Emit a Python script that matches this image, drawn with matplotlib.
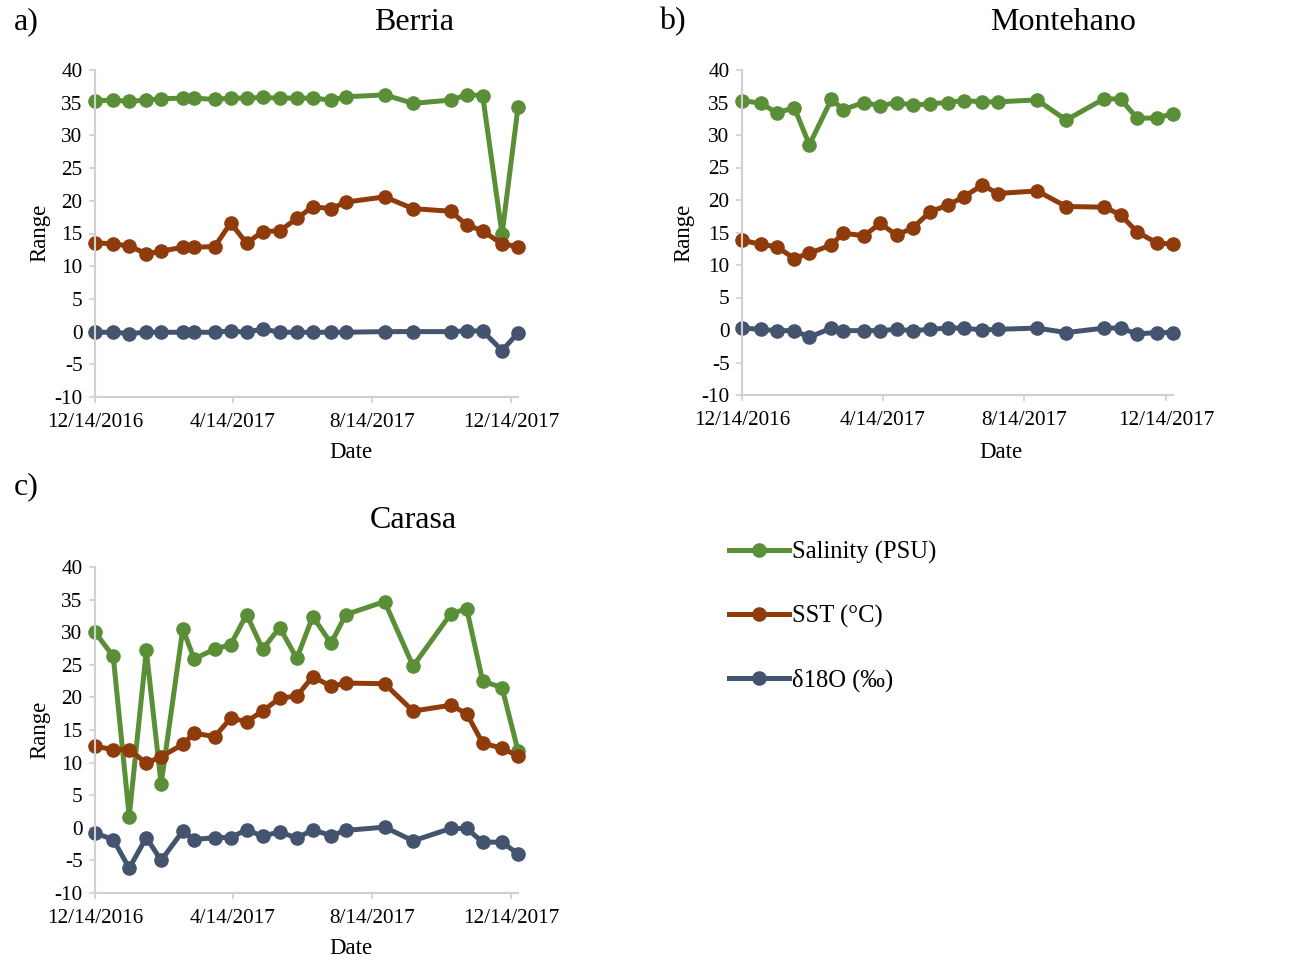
import matplotlib
matplotlib.use("Agg")
import matplotlib.pyplot as plt
import numpy as np
import datetime as dt

plt.rcParams['font.family'] = ['Liberation Serif', 'DejaVu Serif']
plt.rcParams['axes.unicode_minus'] = False

dates = ["2016-12-14", "2016-12-30", "2017-01-13", "2017-01-28", "2017-02-10",
         "2017-03-01", "2017-03-11", "2017-03-29", "2017-04-12", "2017-04-26",
         "2017-05-10", "2017-05-25", "2017-06-09", "2017-06-23", "2017-07-09",
         "2017-07-22", "2017-08-25", "2017-09-19", "2017-10-22", "2017-11-05",
         "2017-11-19", "2017-12-06", "2017-12-20"]

berria_sal = [35.3, 35.4, 35.2, 35.4, 35.6, 35.7, 35.7, 35.5, 35.7, 35.7, 35.8, 35.7,
              35.7, 35.7, 35.4, 35.9, 36.2, 34.9, 35.4, 36.2, 36.1, 14.9, 34.3]
berria_sst = [13.6, 13.4, 13.1, 11.9, 12.3, 12.9, 12.9, 13.0, 16.6, 13.5, 15.3, 15.4,
              17.3, 19.1, 18.8, 19.8, 20.6, 18.8, 18.4, 16.3, 15.4, 13.4, 13.0]
berria_d18o = [-0.1, -0.1, -0.3, -0.1, -0.1, -0.1, -0.1, -0.1, 0.1, -0.1, 0.4, -0.1,
               -0.1, -0.1, -0.1, -0.1, 0.0, 0.0, 0.0, 0.1, 0.1, -2.9, -0.2]

monte_sal = [35.3, 34.9, 33.4, 34.2, 28.5, 35.5, 33.9, 35.0, 34.5, 35.0, 34.6, 34.8,
             35.0, 35.3, 35.1, 35.1, 35.4, 32.3, 35.6, 35.5, 32.6, 32.6, 33.3]
monte_sst = [13.8, 13.2, 12.8, 11.0, 11.8, 13.1, 14.9, 14.5, 16.4, 14.6, 15.7, 18.2,
             19.2, 20.5, 22.3, 21.0, 21.4, 19.0, 18.9, 17.7, 15.1, 13.4, 13.2]
monte_d18o = [0.3, 0.1, -0.1, -0.1, -1.1, 0.3, -0.1, -0.1, -0.1, 0.1, -0.1, 0.1,
              0.3, 0.3, 0.0, 0.1, 0.3, -0.4, 0.3, 0.3, -0.6, -0.4, -0.4]

carasa_sal = [30.0, 26.3, 1.7, 27.2, 6.7, 30.5, 25.9, 27.4, 28.1, 32.7, 27.4, 30.7,
              26.0, 32.4, 28.3, 32.7, 34.7, 24.8, 32.8, 33.6, 22.5, 21.5, 11.8]
carasa_sst = [12.5, 12.0, 12.0, 9.9, 10.9, 12.8, 14.5, 14.0, 16.8, 16.3, 17.9, 19.9,
              20.2, 23.2, 21.7, 22.2, 22.1, 17.9, 18.8, 17.5, 13.0, 12.2, 11.0]
carasa_d18o = [-0.8, -1.8, -6.2, -1.5, -5.0, -0.5, -1.8, -1.5, -1.5, -0.3, -1.3, -0.6,
               -1.6, -0.3, -1.2, -0.4, 0.1, -2.0, -0.1, -0.1, -2.2, -2.2, -4.0]

tick_dates = ["2016-12-14", "2017-04-14", "2017-08-14", "2017-12-14"]
tick_labels = ["12/14/2016", "4/14/2017", "8/14/2017", "12/14/2017"]
yticks = list(range(-10, 41, 5))

series_labels = ["Salinity (PSU)", "SST (\u00b0C)", "\u03b418O (\u2030)"]
colors = ["#5A8F38", "#903B0C", "#44546E"]

x = [dt.datetime.strptime(d, "%Y-%m-%d") for d in dates]
xt = [dt.datetime.strptime(d, "%Y-%m-%d") for d in tick_dates]

W, H = 1307, 964
fig = plt.figure(figsize=(W / 100, H / 100), dpi=100)

def px_axes(left, right, top, bottom):
    return fig.add_axes([left / W, 1 - bottom / H, (right - left) / W, (bottom - top) / H])

panels = [
    (px_axes(95, 518, 70, 397), [berria_sal, berria_sst, berria_d18o]),
    (px_axes(742, 1173, 70, 395), [monte_sal, monte_sst, monte_d18o]),
    (px_axes(95, 518, 567, 893), [carasa_sal, carasa_sst, carasa_d18o]),
]

grey = "#D0D0D0"
handles = []
for ax, series in panels:
    for vals, c, lab in zip(series, colors, series_labels):
        ln, = ax.plot(x, vals, color=c, lw=3.6, marker='o', markersize=9.5,
                      label=lab, solid_joinstyle='round', clip_on=False)
        if ax is panels[0][0]:
            handles.append(ln)
    ax.set_xlim(x[0], x[-1])
    ax.set_ylim(-10, 40)
    ax.set_yticks(yticks)
    ax.set_xticks(xt)
    ax.set_xticklabels(tick_labels)
    for s in ['top', 'right']:
        ax.spines[s].set_visible(False)
    for s in ['left', 'bottom']:
        ax.spines[s].set_color(grey)
        ax.spines[s].set_linewidth(1.5)
    ax.tick_params(axis='both', colors=grey, labelcolor='black', labelsize=15.3,
                   length=4, width=1.2, direction='out')
    ax.tick_params(axis='x', pad=7.5)
    ax.tick_params(axis='y', pad=5)
    ax.patch.set_alpha(0)

# Titles, panel letters, axis labels
fs_title = 23
fig.text(414 / W, 1 - 22 / H, "Berria", ha='center', va='center', fontsize=fs_title)
fig.text(1063 / W, 1 - 22 / H, "Montehano", ha='center', va='center', fontsize=fs_title)
fig.text(413 / W, 1 - 520 / H, "Carasa", ha='center', va='center', fontsize=fs_title)

for lab, px, py in [("a)", 14, 22), ("b)", 659, 22), ("c)", 14, 487)]:
    fig.text(px / W, 1 - py / H, lab, ha='left', va='center', fontsize=23)

for px, py in [(351, 453), (1001, 453), (351, 949)]:
    fig.text(px / W, 1 - py / H, "Date", ha='center', va='center', fontsize=16.5)
for px, py in [(40, 233), (684, 233), (40, 730)]:
    fig.text(px / W, 1 - py / H, "Range", ha='center', va='center', fontsize=16.5, rotation=90)

fig.legend(handles, series_labels, loc='upper left',
           bbox_to_anchor=(729 / W, 1 - 541 / H), frameon=False,
           fontsize=17.7, handlelength=2.45, handletextpad=0.1,
           labelspacing=1.65, borderpad=0, borderaxespad=0)

fig.savefig("out.png", dpi=100)
